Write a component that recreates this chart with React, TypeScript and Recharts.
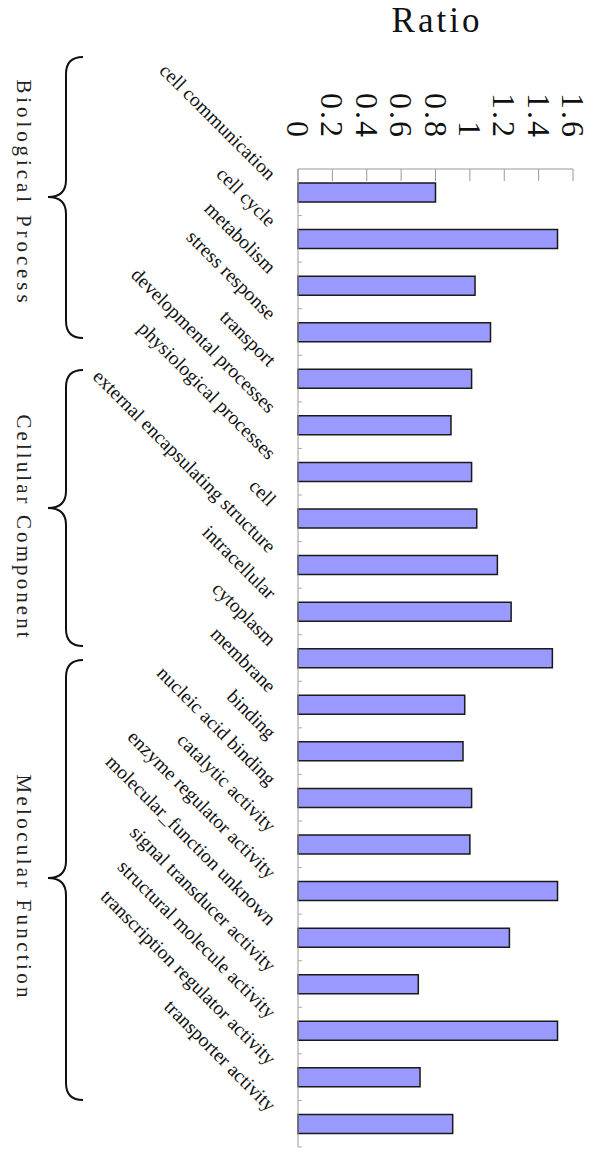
import { BarChart, Bar, XAxis, YAxis, Customized } from 'recharts'

// ── Data ────────────────────────────────────────────────────────────────────
const categories = [
  'cell communication', 'cell cycle', 'metabolism', 'stress response', 'transport',
  'developmental processes', 'physiological processes',
  'cell', 'external encapsulating structure', 'intracellular', 'cytoplasm', 'membrane',
  'binding', 'nucleic acid binding', 'catalytic activity', 'enzyme regulator activity',
  'molecular_function unknown', 'signal transducer activity', 'structural molecule activity',
  'transcription regulator activity', 'transporter activity',
]
const ratios = [
  0.80, 1.51, 1.03, 1.12, 1.01, 0.89, 1.01,
  1.04, 1.16, 1.24, 1.48, 0.97,
  0.96, 1.01, 1.00, 1.51, 1.23, 0.70, 1.51, 0.71, 0.90,
]
const ratioTicks = [0, 0.2, 0.4, 0.6, 0.8, 1, 1.2, 1.4, 1.6]
const groupNames = ['Biological Process', 'Cellular Component', 'Melocular Function']
const axisTitle = 'Ratio'

const data = categories.map((name, i) => ({ name, ratio: ratios[i] }))

// ── Layout ──────────────────────────────────────────────────────────────────
const W = 600
const H = 1159
const PLOT_LEFT = 298
const PLOT_TOP = 169
const PLOT_RIGHT = 573
const PLOT_BOTTOM = 1147
const BAND = (PLOT_BOTTOM - PLOT_TOP) / categories.length

// brace extents (annotation only)
const braces = [
  { top: 57, tip: 197, bottom: 338, labelY: 191 },
  { top: 370, tip: 508, bottom: 646, labelY: 526 },
  { top: 660, tip: 878, bottom: 1100, labelY: 886 },
]

const SERIF = 'Liberation Serif, Times New Roman, serif'

function RatioTick({ x, payload }: any) {
  const s = String(payload.value)
  return (
    <text transform={`translate(${x},137) rotate(90)`} textAnchor="end" dominantBaseline="central"
      fontFamily={SERIF} fontSize={32} fill="#111"
      textLength={s.length > 1 ? s.length * 16 - 4 : undefined} lengthAdjust="spacing">
      {s}
    </text>
  )
}

function CategoryTick({ y, payload }: any) {
  return (
    <g>
      <line x1={PLOT_LEFT} x2={PLOT_LEFT + 4} y1={y + BAND / 2} y2={y + BAND / 2} stroke="#aaa" />
      <text transform={`translate(${PLOT_LEFT - 30},${y - 11}) rotate(45)`} textAnchor="end"
        fontFamily={SERIF} fontSize={19.6} fill="#111">
        {payload.value}
      </text>
    </g>
  )
}

function bracePath(top: number, tip: number, bottom: number) {
  const xe = 83, xl = 66, xt = 48, r = 17
  return `M${xe},${top} Q${xl},${top} ${xl},${top + r} L${xl},${tip - r} Q${xl},${tip} ${xt},${tip} ` +
    `Q${xl},${tip} ${xl},${tip + r} L${xl},${bottom - r} Q${xl},${bottom} ${xe},${bottom}`
}

function Annotations() {
  return (
    <g>
      <text x={(PLOT_LEFT + PLOT_RIGHT) / 2} y={32} textAnchor="middle" fontFamily={SERIF} fontSize={35}
        fill="#111" textLength={88} lengthAdjust="spacing">{axisTitle}</text>
      {braces.map((b, i) => (
        <g key={i}>
          <path d={bracePath(b.top, b.tip, b.bottom)} fill="none" stroke="#111" strokeWidth={2} />
          <text transform={`translate(24,${b.labelY}) rotate(90)`} textAnchor="middle" dominantBaseline="central"
            fontFamily={SERIF} fontSize={21} fill="#222" textLength={groupNames[i].length * 12.4}
            lengthAdjust="spacing">{groupNames[i]}</text>
        </g>
      ))}
    </g>
  )
}

export default function App() {
  return (
    <div style={{ position: 'absolute', left: 0, top: 0, width: W, height: H, background: '#fff' }}>
      <BarChart width={W} height={H} data={data} layout="vertical"
        margin={{ top: 0, right: W - PLOT_RIGHT, bottom: H - PLOT_BOTTOM, left: 0 }}>
        <XAxis type="number" orientation="top" domain={[0, 1.6]} ticks={ratioTicks} interval={0}
          height={PLOT_TOP} tickSize={-12} tick={<RatioTick />}
          axisLine={{ stroke: '#999' }} tickLine={{ stroke: '#999' }} />
        <YAxis type="category" dataKey="name" width={PLOT_LEFT} interval={0} tickLine={false}
          axisLine={{ stroke: '#999' }} tick={<CategoryTick />} />
        <Bar dataKey="ratio" fill="#9999ff" stroke="#1a1a1a" strokeWidth={1.5} barSize={19}
          isAnimationActive={false} />
        <Customized component={<Annotations />} />
      </BarChart>
    </div>
  )
}
